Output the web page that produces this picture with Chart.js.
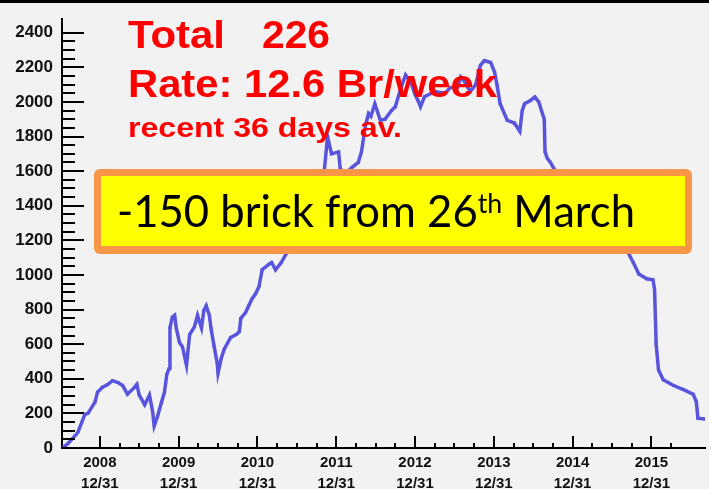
<!DOCTYPE html>
<html>
<head>
<meta charset="utf-8">
<script src="https://cdn.jsdelivr.net/npm/chart.js@4.4.1/dist/chart.umd.min.js"></script>
<style>
  html, body { margin: 0; padding: 0; background: #f2f2f2; overflow: hidden; }
  #wrap { width: 709px; height: 489px; position: relative; }
</style>
</head>
<body>
<div id="wrap"><canvas id="bricks" width="709" height="489"></canvas></div>
<script>
// extracted bricks vs time (decimal years)
const brickTime = [
  2008.53, 2008.60, 2008.72, 2008.81, 2008.85, 2008.94, 2008.97, 2009.03, 2009.10, 2009.16,
  2009.23, 2009.29, 2009.35, 2009.44, 2009.47, 2009.50, 2009.57, 2009.63, 2009.67, 2009.69,
  2009.73, 2009.78, 2009.82, 2009.85, 2009.88, 2009.89, 2009.92, 2009.95, 2009.97, 2010.01,
  2010.05, 2010.10, 2010.14, 2010.20, 2010.24, 2010.29, 2010.32, 2010.35, 2010.39, 2010.41,
  2010.45, 2010.49, 2010.50, 2010.54, 2010.58, 2010.66, 2010.73, 2010.77, 2010.79, 2010.85,
  2010.89, 2010.93, 2010.98, 2011.02, 2011.06, 2011.14, 2011.18, 2011.23, 2011.30, 2011.40,
  2011.52, 2011.65, 2011.77, 2011.84, 2011.89, 2011.94, 2012.03, 2012.05, 2012.12, 2012.15,
  2012.19, 2012.28, 2012.32, 2012.37, 2012.41, 2012.44, 2012.49, 2012.56, 2012.62, 2012.70,
  2012.75, 2012.82, 2012.88, 2012.95, 2013.00, 2013.04, 2013.07, 2013.12, 2013.25, 2013.38,
  2013.45, 2013.54, 2013.58, 2013.63, 2013.70, 2013.77, 2013.83, 2013.88, 2013.96, 2014.01,
  2014.04, 2014.08, 2014.17, 2014.26, 2014.33, 2014.36, 2014.39, 2014.46, 2014.52, 2014.57,
  2014.64, 2014.65, 2014.68, 2014.71, 2014.76, 2014.80, 2014.89, 2014.99, 2015.18, 2015.37,
  2015.56, 2015.68, 2015.77, 2015.84, 2015.94, 2016.02, 2016.04, 2016.06, 2016.09, 2016.15,
  2016.28, 2016.40, 2016.53, 2016.57, 2016.59, 2016.68
];
const brickCount = [
  0, 28, 89, 194, 200, 267, 322, 350, 367, 389,
  378, 361, 311, 350, 367, 306, 250, 306, 211, 128,
  180, 260, 322, 425, 460, 694, 756, 767, 694, 611,
  583, 478, 656, 700, 767, 694, 794, 822, 767, 694,
  589, 489, 433, 517, 572, 639, 656, 672, 750, 783,
  822, 861, 894, 933, 1030, 1060, 1072, 1030, 1070, 1150,
  1250, 1350, 1450, 1560, 1800, 1700, 1711, 1617, 1561, 1600,
  1617, 1650, 1711, 1861, 1933, 1917, 1989, 1894, 1900, 1950,
  1972, 2080, 2156, 2110, 2044, 2006, 1972, 2030, 2060, 2050,
  2083, 2083, 2144, 2117, 2060, 2100, 2211, 2239, 2228, 2172,
  2100, 1989, 1894, 1878, 1830, 1950, 1989, 2006, 2028, 2000,
  1900, 1711, 1672, 1656, 1617, 1583, 1561, 1544, 1520, 1450,
  1300, 1150, 1072, 1006, 978, 972, 917, 600, 450, 394,
  361, 339, 311, 267, 172, 167
];
const yearTicks = [2009, 2010, 2011, 2012, 2013, 2014, 2015, 2016];
const tickDate = '12/31';
const statLines = ['Total', '226', 'Rate: 12.6 Br/week', 'recent 36 days av.'];
const noteText = ['-150 brick from 26', 'th', ' March'];

const points = brickTime.map((t, i) => ({ x: t, y: brickCount[i] }));

function near(v, step) {
  const r = v / step;
  return Math.abs(r - Math.round(r)) < 1e-6;
}

// text stretched to a given width (ROOT text is a bit wider than Arial)
function fitText(ctx, text, x, y, font, width) {
  ctx.font = font;
  const w = ctx.measureText(text).width;
  ctx.save();
  ctx.translate(x, y);
  ctx.scale(width / w, 1);
  ctx.fillText(text, 0, 0);
  ctx.restore();
}

const rootTicks = {
  id: 'rootTicks',
  afterDatasetsDraw(chart) {
    const ctx = chart.ctx;
    const xs = chart.scales.x, ys = chart.scales.y;
    const area = chart.chartArea;
    ctx.save();
    ctx.strokeStyle = '#000';
    ctx.lineWidth = 2;
    ctx.beginPath();
    ys.ticks.forEach(t => {
      if (!near(t.value, 50)) return;
      const py = Math.round(ys.getPixelForValue(t.value));
      const len = near(t.value, 200) ? 22 : 13;
      ctx.moveTo(area.left, py);
      ctx.lineTo(area.left + len, py);
    });
    xs.ticks.forEach(t => {
      if (!near(t.value, 0.25)) return;
      const px = Math.round(xs.getPixelForValue(t.value));
      const len = near(t.value, 1) ? 12 : 5;
      ctx.moveTo(px, area.bottom);
      ctx.lineTo(px, area.bottom - len);
    });
    ctx.stroke();
    ctx.restore();
  },
  afterDraw(chart) {
    const ctx = chart.ctx;
    ctx.save();
    // frame line along the top
    ctx.fillStyle = '#000';
    ctx.fillRect(0, 0, 709, 3);

    // stats text
    ctx.fillStyle = '#ff0000';
    ctx.textBaseline = 'alphabetic';
    fitText(ctx, statLines[0], 128, 48, 'bold 38px "Liberation Sans"', 97);
    fitText(ctx, statLines[1], 262, 48, 'bold 38px "Liberation Sans"', 68);
    fitText(ctx, statLines[2], 128, 97, 'bold 39px "Liberation Sans"', 369);
    fitText(ctx, statLines[3], 128, 137, 'bold 27px "Liberation Sans"', 274);

    // yellow note
    ctx.fillStyle = '#f79646';
    ctx.beginPath();
    ctx.roundRect(94, 169, 598, 85, 6);
    ctx.fill();
    ctx.fillStyle = '#ffff00';
    ctx.fillRect(101, 176, 584, 70);

    const mainFont = '44px Lato';
    const supFont = '27px Lato';
    ctx.font = mainFont;
    const w1 = ctx.measureText(noteText[0]).width;
    const w3 = ctx.measureText(noteText[2]).width;
    ctx.font = supFont;
    const w2 = ctx.measureText(noteText[1]).width;
    const s = 518 / (w1 + w2 + w3);
    ctx.fillStyle = '#000';
    ctx.translate(117, 227);
    ctx.scale(s, 1);
    ctx.font = mainFont;
    ctx.fillText(noteText[0], 0, 0);
    ctx.font = supFont;
    ctx.fillText(noteText[1], w1, -14);
    ctx.font = mainFont;
    ctx.fillText(noteText[2], w1 + w2, 0);
    ctx.restore();
  }
};

new Chart(document.getElementById('bricks'), {
  type: 'line',
  data: {
    datasets: [{
      data: points,
      borderColor: 'rgb(88,84,222)',
      backgroundColor: 'rgb(88,84,222)',
      borderWidth: 3.5,
      pointStyle: 'rect',
      pointRadius: 2,
      pointBorderWidth: 0,
      tension: 0,
      fill: false
    }]
  },
  options: {
    responsive: false,
    animation: false,
    events: [],
    layout: { padding: { top: 2, left: 0, right: 0, bottom: 0 } },
    plugins: { legend: { display: false }, tooltip: { enabled: false } },
    scales: {
      x: {
        type: 'linear',
        min: 2008.52,
        max: 2016.68,
        afterFit(scale) { scale.height = 41; },
        border: { display: true, color: '#000', width: 2 },
        grid: { display: false, drawTicks: false },
        ticks: {
          stepSize: 0.25,
          autoSkip: false,
          maxRotation: 0,
          padding: 4,
          color: '#111',
          font: { family: '"Liberation Sans"', size: 15, weight: 'bold', lineHeight: 1.4 },
          callback(v) {
            const y = yearTicks.find(t => Math.abs(t - v) < 1e-6);
            return y ? [String(y - 1), tickDate] : '';
          }
        }
      },
      y: {
        min: 0,
        max: 2478,
        afterFit(scale) { scale.width = 62; },
        border: { display: true, color: '#000', width: 2 },
        grid: { display: false, drawTicks: false },
        ticks: {
          stepSize: 50,
          autoSkip: false,
          padding: 9,
          color: '#111',
          font: { family: '"Liberation Sans"', size: 17, weight: 'bold' },
          callback(v) { return near(v, 200) ? String(v) : ''; }
        }
      }
    }
  },
  plugins: [rootTicks]
});
</script>
</body>
</html>
